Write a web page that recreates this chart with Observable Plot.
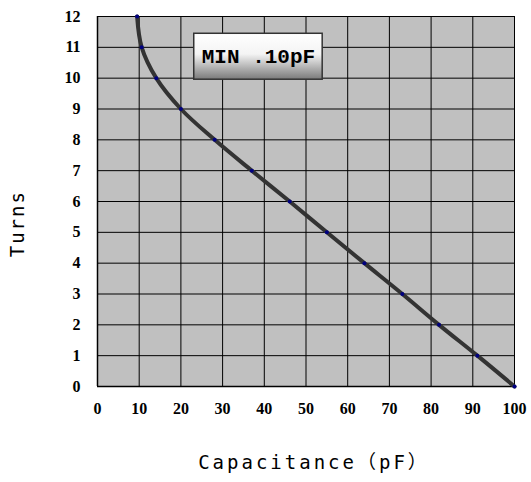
<!DOCTYPE html>
<html>
<head>
<meta charset="utf-8">
<script src="https://cdn.jsdelivr.net/npm/d3@7"></script>
<script src="https://cdn.jsdelivr.net/npm/@observablehq/plot@0.6"></script>
<style>
  html, body { margin: 0; padding: 0; background: #fff; }
  #chart svg { display: block; }
</style>
</head>
<body>
<div id="chart"></div>
<script>
// Data
const turns = [12, 11, 10, 9, 8, 7, 6, 5, 4, 3, 2, 1, 0];
const capacitance = [9.5, 10.6, 14.1, 20.0, 28.1, 37.0, 46.1, 55.0, 64.0, 73.1, 81.9, 91.1, 100];
const xTicks = [0, 10, 20, 30, 40, 50, 60, 70, 80, 90, 100];
const yTicks = [0, 1, 2, 3, 4, 5, 6, 7, 8, 9, 10, 11, 12];
const note = ["MIN .10pF"];
const xLabel = ["Capacitance（pF）"];
const yLabel = ["Turns"];

const data = turns.map((t, i) => ({turns: t, cap: capacitance[i]}));

const gradientDefs = () => {
  const ns = "http://www.w3.org/2000/svg";
  const defs = document.createElementNS(ns, "defs");
  defs.innerHTML = `<linearGradient id="boxgrad" x1="0" y1="0" x2="0" y2="1">
      <stop offset="0" stop-color="#ffffff"/>
      <stop offset="0.45" stop-color="#f4f4f4"/>
      <stop offset="1" stop-color="#7a7a7a"/>
    </linearGradient>`;
  return defs;
};

const labelFont = "DejaVu Sans Mono, Noto Sans CJK SC, monospace";
const serifFont = '"Liberation Serif", "Times New Roman", "DejaVu Serif", serif';
const monoSerifFont = '"Liberation Mono", "Courier New", "DejaVu Sans Mono", monospace';

const chart = Plot.plot({
  width: 531,
  height: 482,
  marginLeft: 97,
  marginRight: 17,
  marginTop: 16,
  marginBottom: 96,
  style: {background: "#fff", overflow: "visible"},
  x: {domain: [0, 100], label: null, axis: null},
  y: {domain: [0, 12], label: null, axis: null},
  marks: [
    gradientDefs,
    Plot.frame({fill: "#c0c0c0", stroke: null}),
    Plot.ruleX(xTicks, {stroke: "#000", strokeWidth: 1}),
    Plot.ruleY(yTicks, {stroke: "#000", strokeWidth: 1}),
    Plot.ruleX([0], {stroke: "#000", strokeWidth: 1.5}),
    Plot.ruleY([0], {stroke: "#000", strokeWidth: 1.5}),
    Plot.line(data, {x: "cap", y: "turns", curve: "catmull-rom", stroke: "#333", strokeWidth: 4}),
    Plot.dot(data, {x: "cap", y: "turns", r: 2, fill: "#000080", stroke: null}),
    Plot.rect(note, {x1: 23.2, x2: 54.0, y1: 9.95, y2: 11.44, fill: "url(#boxgrad)", stroke: "#333", strokeWidth: 1.5}),
    Plot.text(note, {x: 38.6, y: 10.7, text: d => d, fontWeight: "bold", fontSize: 21, fill: "#000"}),
    Plot.text(xTicks, {x: d => d, frameAnchor: "bottom", dy: 27, text: d => String(d), fontWeight: "bold", fontSize: 16, fill: "#000"}),
    Plot.text(yTicks, {y: d => d, frameAnchor: "left", dx: -17, textAnchor: "end", text: d => String(d), fontWeight: "bold", fontSize: 16, fill: "#000"}),
    Plot.text(yLabel, {x: -19, y: 5.28, rotate: -90, text: d => d, fontFamily: labelFont, fontSize: 19, fill: "#000"}),
    Plot.text(xLabel, {frameAnchor: "bottom", dy: 82, dx: 8, text: d => d, fontFamily: labelFont, fontSize: 19, fill: "#000"})
  ]
});
chart.querySelectorAll("text").forEach(t => {
  const s = t.textContent;
  if (s === "Capacitance（pF）") t.style.letterSpacing = "3px";
  else if (s === "Turns") t.style.letterSpacing = "2px";
  else if (s === "MIN .10pF") { t.style.fontFamily = monoSerifFont; t.setAttribute("font-family", monoSerifFont); }
  else if (/^\d+$/.test(s)) { t.style.fontFamily = serifFont; t.setAttribute("font-family", serifFont); }
});
document.getElementById("chart").appendChild(chart);
</script>
</body>
</html>
